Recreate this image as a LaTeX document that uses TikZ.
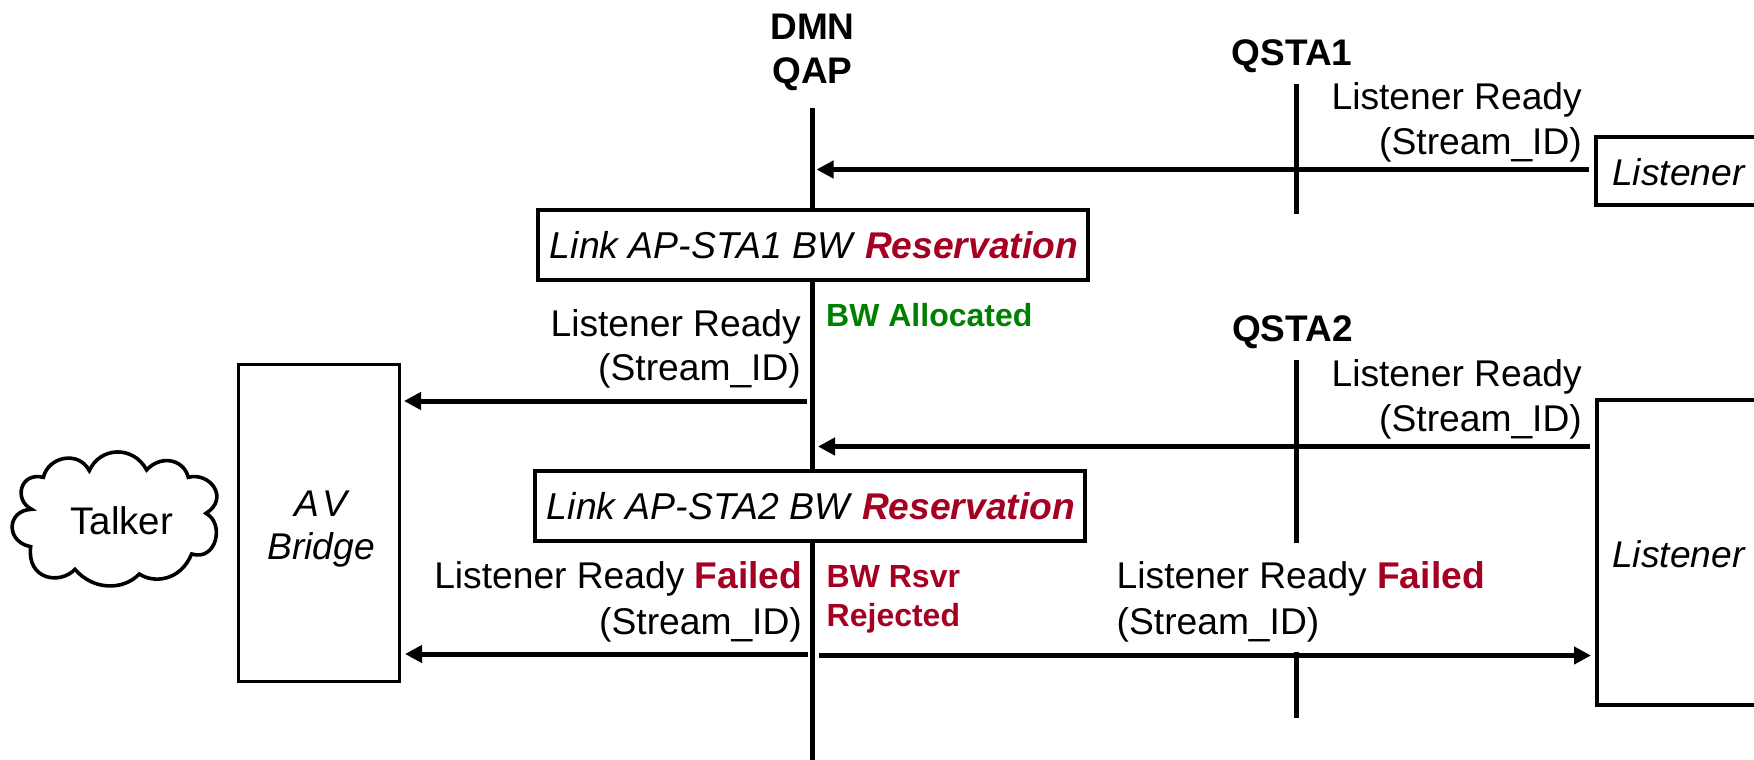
\documentclass[tikz,border=0pt]{standalone}
\usepackage{fontspec}
\setmainfont{Liberation Sans}
\usetikzlibrary{arrows.meta}
\definecolor{rsv}{RGB}{165,0,33}
\definecolor{alloc}{RGB}{0,128,0}
\newcommand{\fsz}[1]{\fontsize{#1}{#1}\selectfont}
\newcommand{\bad}[1]{\textcolor{rsv}{\bfseries #1}}
\tikzset{
  x=1pt,y=-1pt,
  life/.style={line width=5.5pt,black},
  msg/.style={line width=5pt,black,-{Triangle[length=17pt,width=17pt]}},
  boxed/.style={draw=black,line width=3.5pt,fill=white},
  ital/.style={inner sep=0pt,font=\fsz{37.2}\itshape},
  txtr/.style={inner sep=0pt,font=\fsz{37.2},anchor=base east},
  txtl/.style={inner sep=0pt,font=\fsz{37.2},anchor=base west},
  head/.style={inner sep=0pt,font=\fsz{37}\bfseries,anchor=base},
  small/.style={inner sep=0pt,font=\fsz{32}\bfseries,anchor=base west},
}
\begin{document}
\begin{tikzpicture}
\useasboundingbox (0,0) rectangle (1754,760);
% lifelines
\coordinate (qt) at (812.7,108); \coordinate (qb) at (812.7,760);
\coordinate (s1t) at (1296.5,84); \coordinate (s1b) at (1296.5,214);
\coordinate (s2t) at (1296.5,360); \coordinate (s2b) at (1296.5,542.5);
\coordinate (s3t) at (1296.5,652); \coordinate (s3b) at (1296.5,718);
\draw[life] (qt) -- (qb);
\draw[life] (s1t) -- (s1b);
\draw[life] (s2t) -- (s2b);
\draw[life] (s3t) -- (s3b);
% headers
\node[head] (dmn) at (812.5,40) {DMN};
\node[head] (qap) at (812.5,84) {QAP};
\node[head] (q1) at (1292,66) {QSTA1};
\node[head] (q2) at (1292.5,341) {QSTA2};
% boxes
\coordinate (bl1) at (1596,137); \coordinate (br1) at (1760,205);
\draw[boxed] (bl1) rectangle (br1);
\node[ital,anchor=base west] (lis1) at (1612,185) {Listener};
\coordinate (bl2) at (1597,400); \coordinate (br2) at (1760,705);
\draw[boxed] (bl2) rectangle (br2);
\node[ital,anchor=base west] (lis2) at (1612,567) {Listener};
\node[boxed,minimum width=161pt,minimum height=317pt,inner sep=0pt] (av) at (319,523) {};
\node[ital,anchor=base] (avt1) at (321,516) {A\kern3pt V};
\node[ital,anchor=base] (avt2) at (321,559) {Bridge};
\node[boxed,ital,minimum width=550pt,minimum height=70pt] (l1) at (813,245) {\hspace{2pt}{\fsz{37.4}Link AP-STA1 BW}\hspace{2pt} \bad{Reservation}};
\node[boxed,ital,minimum width=550pt,minimum height=70pt] (l2) at (810,506) {\hspace{2pt}{\fsz{37.4}Link AP-STA2 BW}\hspace{2pt} \bad{Reservation}};
% cloud
\begin{scope}[shift={(0,350)},x=0.33333pt,y=-0.33333pt]
\draw[line width=3.6pt,fill=white,line join=miter] (130,382)
 .. controls (145,320) and (235,300) .. (268,362)
 .. controls (300,290) and (400,285) .. (440,360)
 .. controls (480,315) and (550,325) .. (565,382)
 .. controls (630,365) and (690,445) .. (618,490)
 .. controls (675,520) and (650,635) .. (575,612)
 .. controls (540,695) and (460,700) .. (418,672)
 .. controls (370,722) and (280,722) .. (225,658)
 .. controls (180,705) and (80,690) .. (92,590)
 .. controls (15,575) and (20,480) .. (95,478)
 .. controls (40,450) and (60,365) .. (130,382)
 -- cycle;
\end{scope}
\node[inner sep=0pt,font=\fsz{38.5},anchor=base] (talker) at (121.7,534) {Talker};
% arrow ends
\coordinate (a1s) at (1588.5,169.5); \coordinate (a1e) at (816.5,169.5);
\coordinate (a2s) at (807,401); \coordinate (a2e) at (404,401);
\coordinate (a3s) at (1589.5,446.5); \coordinate (a3e) at (818,446.5);
\coordinate (a4s) at (808,654); \coordinate (a4e) at (405,654);
\coordinate (a5s) at (819,655.5); \coordinate (a5e) at (1591,655.5);
\draw[msg] (a1s) -- (a1e);
\draw[msg] (a2s) -- (a2e);
\draw[msg] (a3s) -- (a3e);
\draw[msg] (a4s) -- (a4e);
\draw[msg] (a5s) -- (a5e);
% labels
\node[txtr] (t1a) at (1582,110) {Listener Ready};
\node[txtr] (t1b) at (1582,154) {(Stream\_ID)};
\node[txtr] (t2a) at (801,336) {Listener Ready};
\node[txtr] (t2b) at (801,380) {(Stream\_ID)};
\node[small,text=alloc] (t3) at (826,326) {BW Allocated};
\node[txtr] (t4a) at (1582,386) {Listener Ready};
\node[txtr] (t4b) at (1582,431) {(Stream\_ID)};
\node[txtr] (t5a) at (802.5,588) {Listener Ready \bad{Failed}};
\node[txtr] (t5b) at (802,634) {(Stream\_ID)};
\node[small,text=rsv] (t6a) at (826.5,587.5) {BW Rsvr};
\node[small,text=rsv] (t6b) at (826.5,626.5) {Rejected};
\node[txtl] (t7a) at (1116.5,588) {Listener Ready \bad{Failed}};
\node[txtl] (t7b) at (1116.5,634) {(Stream\_ID)};
\end{tikzpicture}
\end{document}
